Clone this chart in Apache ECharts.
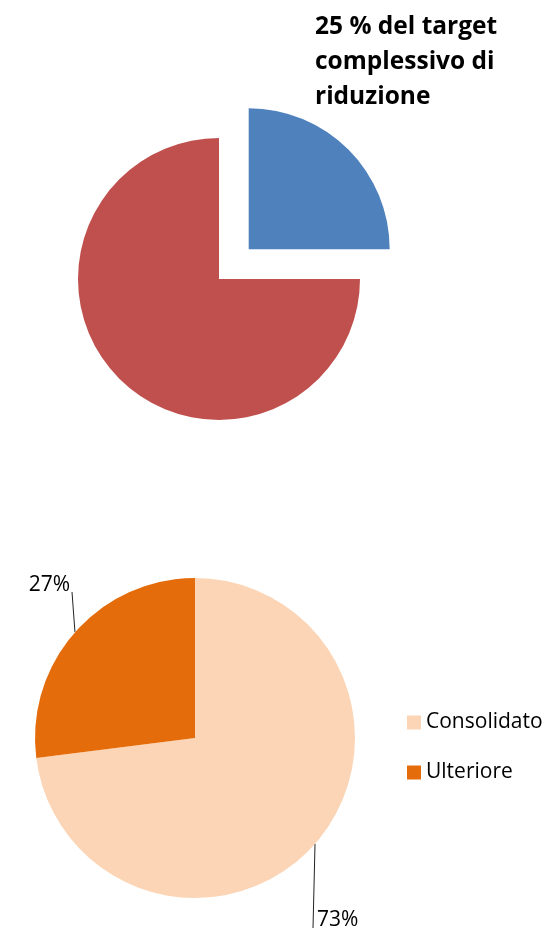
<!DOCTYPE html>
<html>
<head>
<meta charset="utf-8">
<script src="https://cdn.jsdelivr.net/npm/echarts@6/dist/echarts.min.js"></script>
<style>
  html, body { margin: 0; padding: 0; background: #fff; }
  #chart { width: 554px; height: 928px; }
</style>
</head>
<body>
<div id="chart"></div>
<script>
// torta superiore: quota del target
const targetNames = ['Target 25%', 'Restante'];
const targetValues = [25, 75];
const targetColors = ['#4F81BD', '#C0504D'];

// torta inferiore: ripartizione
const splitNames = ['Consolidato', 'Ulteriore'];
const splitValues = [73, 27];
const splitColors = ['#FBD5B5', '#E46C0A'];

const titleText = '25 % del target\ncomplessivo di\nriduzione';

const myChart = echarts.init(document.getElementById('chart'));

// posizione etichette e fine della linea guida
const labelPos = {
    0: { x: 317, y: 920, align: 'left', endX: -4, endY: 928 },
    1: { x: 70, y: 585, align: 'right', endX: 2, endY: 592 },
};

myChart.setOption({
    animation: false,
    title: {
        text: titleText,
        left: 315,
        top: 10,
        padding: 0,
        textStyle: {
            fontFamily: 'Open Sans',
            fontWeight: 'bold',
            fontSize: 24.5,
            lineHeight: 35,
            color: '#000',
        },
    },
    legend: {
        data: splitNames,
        orient: 'vertical',
        left: 407,
        top: 712,
        padding: 0,
        icon: 'rect',
        itemWidth: 14,
        itemHeight: 14,
        itemGap: 29,
        selectedMode: false,
        textStyle: {
            fontFamily: 'Open Sans',
            fontSize: 21,
            color: '#000',
        },
    },
    series: [
        {
            type: 'pie',
            center: [219, 279],
            radius: 141,
            startAngle: 90,
            selectedMode: 'single',
            selectedOffset: 42,
            silent: true,
            label: { show: false },
            labelLine: { show: false },
            data: targetNames.map((n, i) => ({
                name: n,
                value: targetValues[i],
                selected: i === 0,
                itemStyle: { color: targetColors[i] },
            })),
        },
        {
            type: 'pie',
            center: [195, 738],
            radius: 160,
            startAngle: 90,
            silent: true,
            label: {
                show: true,
                formatter: '{d}%',
                fontFamily: 'Open Sans',
                fontSize: 21,
                color: '#000',
                overflow: 'none',
            },
            labelLine: {
                show: true,
                lineStyle: { color: '#222', width: 1 },
            },
            labelLayout: (params) => {
                const p = labelPos[params.dataIndex];
                const out = { x: p.x, y: p.y, align: p.align, verticalAlign: 'middle' };
                const pts = params.labelLinePoints;
                if (pts && pts.length) {
                    const a = pts[0];
                    out.labelLinePoints = [a, [p.x + p.endX, p.endY]];
                }
                return out;
            },
            data: splitNames.map((n, i) => ({
                name: n,
                value: splitValues[i],
                itemStyle: { color: splitColors[i] },
            })),
        },
    ],
});
</script>
</body>
</html>
